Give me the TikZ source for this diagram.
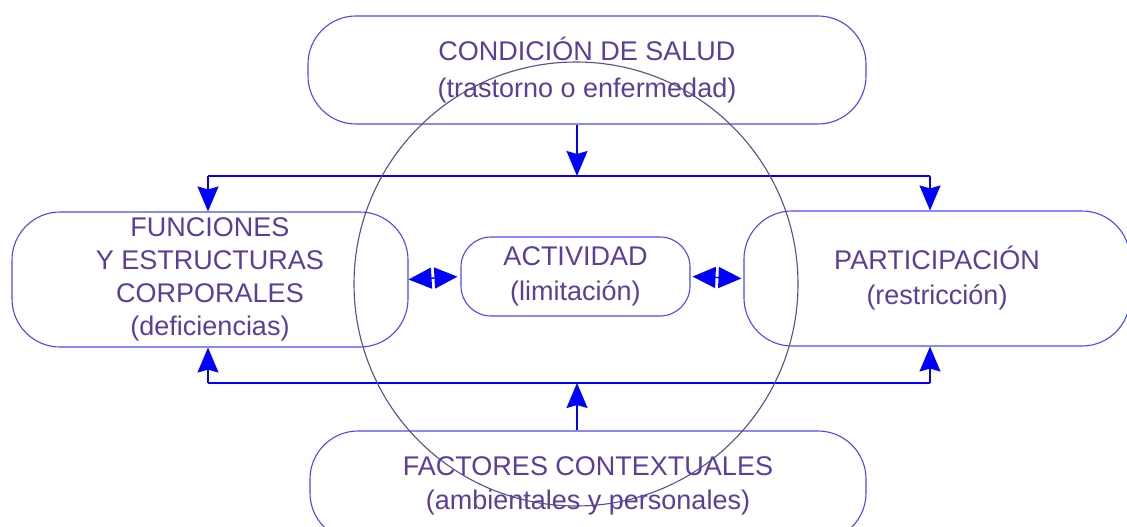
\documentclass[tikz,border=0pt]{standalone}
\usepackage{fontspec}
\setmainfont{Liberation Sans}
\usetikzlibrary{arrows.meta}
\definecolor{txtpurple}{RGB}{92,62,152}
\definecolor{boxblue}{RGB}{72,72,255}
\definecolor{arrowblue}{RGB}{0,0,255}
\definecolor{ringgray}{RGB}{88,78,140}
\tikzset{
    box/.style={draw=boxblue, line width=1.1pt, rounded corners=48pt, text=txtpurple,
        align=center, inner sep=0pt, font=\fontsize{27}{33}\selectfont},
    flow/.style={draw=arrowblue, line width=1.4pt},
    arr/.style={flow, -{Stealth[length=25pt,width=21pt,inset=3pt]}},
    biarr/.style={flow, {Triangle[length=23pt,width=21pt]}-{Triangle[length=23pt,width=21pt]}},
    ring/.style={draw=ringgray, line width=1.1pt}
}
\begin{document}
\begin{tikzpicture}[x=1pt, y=-1pt]
    \useasboundingbox (0,0) rectangle (1127,527);
    \clip (0,0) rectangle (1127,527);
    % The five boxes
    \node[box, minimum width=558pt, minimum height=108pt] (salud) at (587,70)
        {CONDICIÓN DE SALUD\\[4pt](trastorno o enfermedad)};
    \node[box, minimum width=396pt, minimum height=135pt] (funciones) at (210,279.5)
        {FUNCIONES\\Y ESTRUCTURAS\\CORPORALES\\(deficiencias)};
    \node[box, minimum width=229pt, minimum height=79pt, rounded corners=30pt] (actividad) at (575.5,276.5)
        {ACTIVIDAD\\[2pt](limitación)};
    \node[box, minimum width=386pt, minimum height=135pt] (participacion) at (937,278.5)
        {PARTICIPACIÓN\\[2pt](restricción)};
    \node[box, minimum width=556pt, minimum height=110pt] (factores) at (588,486)
        {FACTORES CONTEXTUALES\\[1pt](ambientales y personales)};
    % Bars above and below the middle row
    \coordinate (ct) at (577,176);
    \coordinate (tl) at (208,176);
    \coordinate (tr) at (930,176);
    \coordinate (cb) at (577,383);
    \coordinate (bl) at (208,383);
    \coordinate (br) at (930,383);
    \draw[arr] (salud.south -| ct) -- (ct);
    \draw[flow] (tl) -- (tr);
    \draw[arr] (tl) -- (tl |- funciones.north);
    \draw[arr] (tr) -- (tr |- participacion.north);
    \draw[arr] (factores.north -| cb) -- (cb);
    \draw[flow] (bl) -- (br);
    \draw[arr] (bl) -- (bl |- funciones.south);
    \draw[arr] (br) -- (br |- participacion.south);
    % Two-way arrows on the middle row
    \draw[biarr, shorten >=3pt] (funciones.east) -- (actividad.west);
    \draw[biarr, shorten <=2pt, shorten >=2pt] (actividad.east) -- (participacion.west);
    % The circle over everything
    \draw[ring] (576,284) circle (222);
\end{tikzpicture}
\end{document}
